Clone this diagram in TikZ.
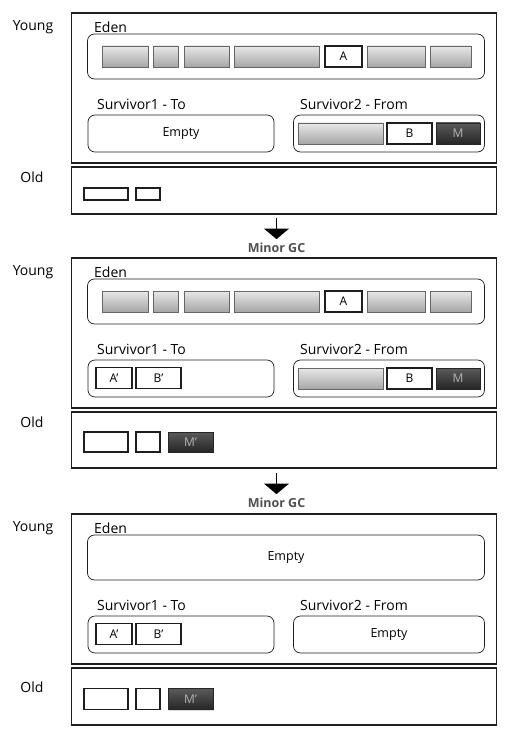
\documentclass[tikz,border=0pt]{standalone}
\usepackage{fontspec}
\setmainfont{Open Sans}
\usepackage{tikz}
\usetikzlibrary{positioning, shapes.arrows, shadows}
\definecolor{lineBlack}{HTML}{1E1E1E}
\definecolor{grayTop}{HTML}{E8E8E8}
\definecolor{grayBottom}{HTML}{A6A6A6}
\definecolor{darkTop}{HTML}{5A5A5A}
\definecolor{darkBottom}{HTML}{262626}
\definecolor{darkLabel}{HTML}{B4B4B4}
\definecolor{gcGray}{HTML}{505050}

\begin{document}
\begin{tikzpicture}[x=1pt, y=-1pt,
  heap/.style={draw=lineBlack, line width=1.3pt, minimum width=425pt, inner sep=0pt},
  space/.style={draw=lineBlack, line width=0.7pt, rounded corners=7pt, inner sep=0pt, font=\fontsize{12.5}{14}\selectfont},
  gen/.style={font=\fontsize{14}{16}\selectfont, inner sep=0pt},
  area/.style={font=\fontsize{14}{16}\selectfont, anchor=west, inner sep=0pt},
  filler/.style={draw=gray!80!black, line width=0.5pt, top color=grayTop, bottom color=grayBottom, inner sep=0pt, minimum height=21pt},
  live/.style={draw=lineBlack, line width=1.2pt, fill=white, inner sep=0pt, minimum height=21pt, font=\fontsize{12}{14}\selectfont},
  tenured/.style={draw=lineBlack, line width=1.1pt, fill=white, inner sep=0pt},
  aged/.style={draw=darkBottom, top color=darkTop, bottom color=darkBottom, drop shadow={shadow xshift=1pt, shadow yshift=-1pt, opacity=0.3}, inner sep=0pt, text=darkLabel, font=\fontsize{12}{14}\selectfont},
  gcarrow/.style={single arrow, fill=black, shape border rotate=270, inner sep=0pt, minimum width=25pt, single arrow head extend=7pt, single arrow tip angle=100, minimum height=21pt},
  gclabel/.style={font=\fontsize{12.5}{14}\selectfont\bfseries, text=gcGray, inner sep=0pt}]
\useasboundingbox (0,0) rectangle (512,741);

\foreach \p/\oy/\ob/\ol/\oc/\oh in {1/0/214/177/194/12, 2/245/223/177/197/20, 3/501/224/186/198/21} {
  \begin{scope}[shift={(0,\oy)}]
    \node[heap, minimum height=150pt] (young\p) at (284,88) {};
    \node[heap, minimum height={(\ob-167)*1pt}] (old\p) at (284,{(167+\ob)/2}) {};
    \node[gen] (younglbl\p) at (33,27) {Young};
    \node[gen] (oldlbl\p) at (32,\ol) {Old};
    \node[area] (edenlbl\p) at (94,27) {Eden};
    \node[space, minimum width=397pt, minimum height=45pt] (eden\p) at (286,56.5) {};
    \node[area] (s1lbl\p) at (97,104) {Survivor1 - To};
    \node[area] (s2lbl\p) at (300,104) {Survivor2 - From};
    \node[space, minimum width=186pt, minimum height=37pt] (sone\p) at (181,133.5) {};
    \node[space, minimum width=191pt, minimum height=37pt] (stwo\p) at (389,133.5) {};
    \node[tenured, minimum width=44pt, minimum height=\oh pt] (oa\p) at (106,\oc) {};
    \node[tenured, minimum width=24pt, minimum height=\oh pt] (ob\p) at (148,\oc) {};
  \end{scope}
}

\foreach \p/\oy in {1/0, 2/245} {
  \foreach \a/\b [count=\i] in {102/148, 153/178, 184/229, 234/319, 367/425, 430/471}
    \node[filler, minimum width={(\b-\a)*1pt}] (blk\p-\i) at ({(\a+\b)/2},56.5+\oy) {};
  \node[live, minimum width=37pt] (a\p) at (343.5,56.5+\oy) {A};
  \node[filler, minimum width=85pt] (old\p-fill) at (340.5,133.5+\oy) {};
  \node[live, minimum width=45pt] (b\p) at (409.5,133.5+\oy) {B};
  \node[aged, minimum width=44pt, minimum height=21pt] (m\p) at (458,133.5+\oy) {M};
}

\foreach \p/\oy/\oc/\oh in {2/245/197/20, 3/501/198/21} {
  \node[live, minimum width=36pt] (acopy\p) at (114,133+\oy) {A'};
  \node[live, minimum width=45pt] (bcopy\p) at (158.5,133+\oy) {B'};
  \node[aged, minimum width=45pt, minimum height=\oh pt] (mcopy\p) at (190.5,\oc+\oy) {M'};
}

\node[font=\fontsize{12.5}{14}\selectfont] (sempty1) at (sone1) {Empty};
\node[font=\fontsize{12.5}{14}\selectfont] (eempty3) at (eden3) {Empty};
\node[font=\fontsize{12.5}{14}\selectfont] (sempty3) at (stwo3) {Empty};

\node[gcarrow] (gc1) at (276.5,228.5) {};
\node[gclabel, below=3pt of gc1] (minorgc1) {Minor GC};
\node[gcarrow] (gc2) at (276.5,483.5) {};
\node[gclabel, below=3pt of gc2] (minorgc2) {Minor GC};
\end{tikzpicture}
\end{document}
